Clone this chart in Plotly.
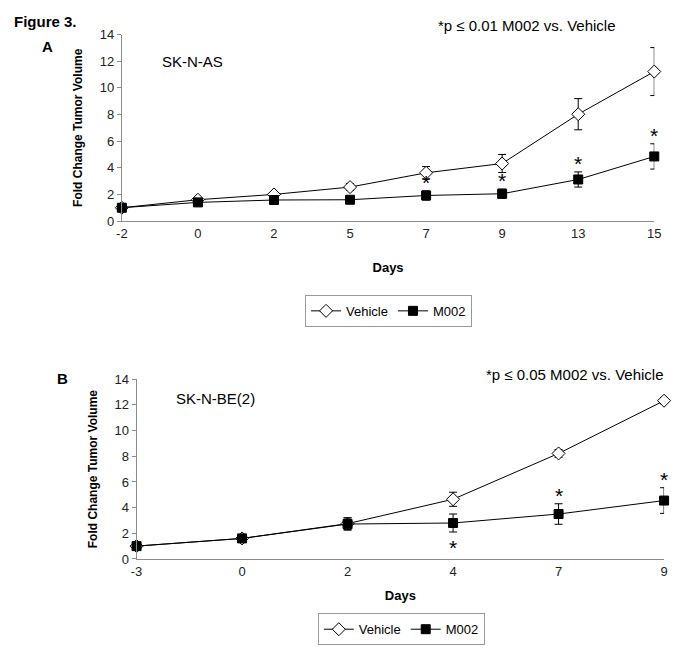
import plotly.graph_objects as go

# ---- Panel A data (SK-N-AS) ----
days_a = ["-2", "0", "2", "5", "7", "9", "13", "15"]
veh_a = [1.0, 1.6, 2.0, 2.55, 3.62, 4.32, 8.02, 11.22]
veh_a_err = [0.05, 0.12, 0.2, 0.25, 0.47, 0.68, 1.17, 1.8]
m002_a = [1.0, 1.4, 1.58, 1.6, 1.92, 2.05, 3.12, 4.85]
m002_a_err = [0.05, 0.1, 0.12, 0.12, 0.35, 0.35, 0.57, 0.95]
sig_a = [0, 0, 0, 0, 1, 1, 1, 1]          # 1 = asterisk above M002

# ---- Panel B data (SK-N-BE(2)) ----
days_b = ["-3", "0", "2", "4", "7", "9"]
veh_b = [1.0, 1.6, 2.75, 4.65, 8.22, 12.33]
veh_b_err = [0.05, 0.12, 0.45, 0.55, 0.3, 0.25]
m002_b = [1.0, 1.6, 2.72, 2.8, 3.5, 4.55]
m002_b_err = [0.05, 0.15, 0.48, 0.7, 0.8, 1.0]
sig_b = [0, 0, 0, -1, 1, 1]              # 1 above, -1 below

yticks = [0, 2, 4, 6, 8, 10, 12, 14]

FONT = "Liberation Sans, Arial, sans-serif"
AXIS_GRAY = "#8c8c8c"

fig = go.Figure()

def add_series(xs, ys, errs, name, symbol, fill, xa, ya, legend):
    fig.add_trace(go.Scatter(
        x=list(range(len(xs))), y=ys, name=name, mode="lines+markers",
        xaxis=xa, yaxis=ya, legend=legend,
        line=dict(color="black", width=1),
        marker=dict(symbol=symbol, size=10 if symbol == "diamond" else 9,
                    color=fill, line=dict(color="black", width=1)),
        error_y=dict(type="data", array=errs, visible=True, color="black",
                     thickness=1, width=4),
        cliponaxis=False,
    ))

add_series(days_a, veh_a, veh_a_err, "Vehicle", "diamond", "white", "x", "y", "legend")
add_series(days_a, m002_a, m002_a_err, "M002", "square", "black", "x", "y", "legend")
add_series(days_b, veh_b, veh_b_err, "Vehicle", "diamond", "white", "x2", "y2", "legend2")
add_series(days_b, m002_b, m002_b_err, "M002", "square", "black", "x2", "y2", "legend2")

annotations = []
def add_stars(sig, vals, errs, xr, yr):
    for i, s in enumerate(sig):
        if s == 1:
            annotations.append(dict(x=i, y=vals[i] + errs[i], xref=xr, yref=yr,
                                    text="*", showarrow=False, yanchor="bottom",
                                    yshift=-5, font=dict(size=21, color="black", family=FONT)))
        elif s == -1:
            annotations.append(dict(x=i, y=vals[i] - errs[i], xref=xr, yref=yr,
                                    text="*", showarrow=False, yanchor="top",
                                    yshift=-2, font=dict(size=21, color="black", family=FONT)))

add_stars(sig_a, m002_a, m002_a_err, "x", "y")
add_stars(sig_b, m002_b, m002_b_err, "x2", "y2")

# page body has an 8px margin: the figure is drawn offset by 8px
OFF = 8
W, H = 683 - 2 * OFF, 656 - 2 * OFF
def px(x): return (x - OFF) / W
def py(y): return 1 - (y - OFF) / H

def label(x, y, text, anchor="left"):
    return dict(x=px(x), y=py(y), xref="paper", yref="paper", text=text,
                showarrow=False, xanchor=anchor, yanchor="middle",
                font=dict(size=15, family=FONT, color="black"))

annotations += [
    label(6, 15, "<b>Figure 3.</b>"),
    label(42, 40, "<b>A</b>", "center"),
    label(57, 380, "<b>B</b>", "center"),
    label(157, 56, "SK-N-AS"),
    label(171, 401, "SK-N-BE(2)"),
    label(624, 19, "*p ≤ 0.01 M002 vs. Vehicle", "right"),
    label(673, 376, "*p ≤ 0.05 M002 vs. Vehicle", "right"),
]

def xaxis_cfg(labels, domain, anchor, standoff):
    return dict(domain=domain, anchor=anchor, range=[0, len(labels) - 1],
                tickmode="array", tickvals=list(range(len(labels))), ticktext=labels,
                showline=True, linecolor=AXIS_GRAY, linewidth=1, ticks="",
                showgrid=False, zeroline=False,
                tickfont=dict(size=13, family=FONT, color="#222"),
                title=dict(text="<b>Days</b>", standoff=standoff,
                           font=dict(size=13, family=FONT, color="black")))

def yaxis_cfg(domain, anchor):
    return dict(domain=domain, anchor=anchor, range=[0, 14], tickvals=yticks,
                showline=True, linecolor=AXIS_GRAY, linewidth=1,
                ticks="outside", ticklen=4, tickcolor=AXIS_GRAY,
                showgrid=False, zeroline=False,
                tickfont=dict(size=13, family=FONT, color="#222"),
                title=dict(text="<b>Fold Change Tumor Volume</b>", standoff=14,
                           font=dict(size=12, family=FONT, color="black")))

legend_style = dict(orientation="h", bordercolor="#999", borderwidth=1, bgcolor="white",
                    font=dict(size=13, family=FONT, color="black"),
                    xanchor="center", yanchor="middle", itemwidth=30,
                    tracegroupgap=0)

fig.update_layout(
    width=W, height=H, paper_bgcolor="white", plot_bgcolor="white",
    margin=dict(l=0, r=0, t=0, b=0),
    font=dict(family=FONT, color="black"),
    xaxis=xaxis_cfg(days_a, [px(118), px(661)], "y", 23),
    yaxis=yaxis_cfg([py(219), py(28)], "x"),
    xaxis2=xaxis_cfg(days_b, [px(133), px(671)], "y2", 13),
    yaxis2=yaxis_cfg([py(565), py(381)], "x2"),
    legend=dict(x=px(390), y=py(311), **legend_style),
    legend2=dict(x=px(403), y=py(637), **legend_style),
    annotations=annotations,
)

fig.write_html("out.html")
